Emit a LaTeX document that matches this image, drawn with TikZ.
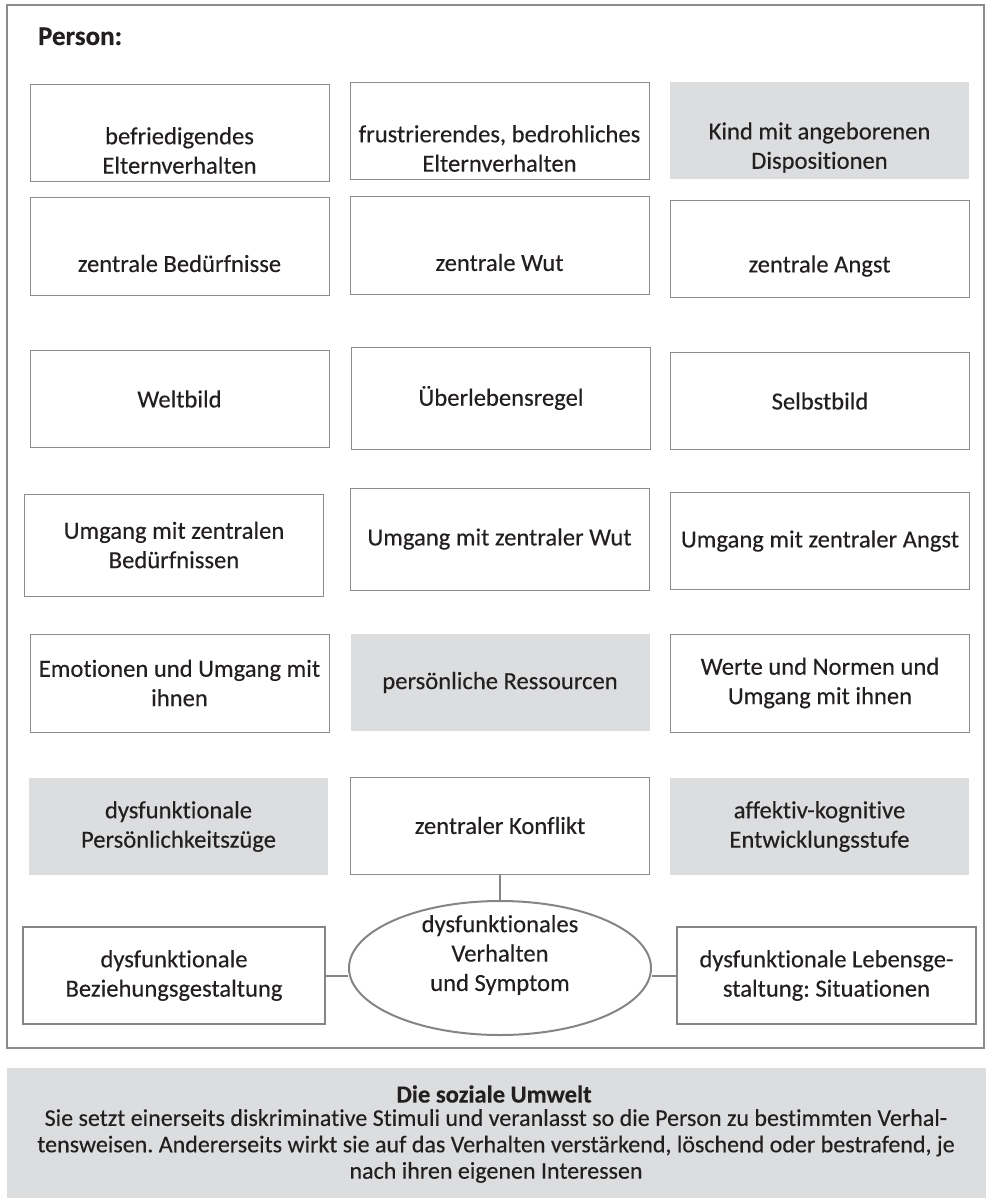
\documentclass[tikz,border=0pt]{standalone}
\usepackage{fontspec}
\setmainfont{Carlito}[Ligatures=NoCommon,FakeBold=0.3]
\usetikzlibrary{shapes.geometric}
\definecolor{frame}{HTML}{8C8C8C}
\definecolor{fillgrey}{HTML}{DCDDDF}
\definecolor{ink}{HTML}{231F20}
\frenchspacing
\begin{document}
\begin{tikzpicture}[x=0.5pt,y=-0.5pt,font=\fontsize{12.3}{14.7}\selectfont,text=ink]
\tikzstyle{box}=[draw=frame,line width=0.5pt,minimum width=149.5pt,minimum height=48.5pt,inner sep=0pt,align=center];
\tikzstyle{grey}=[fill=fillgrey,minimum width=149.5pt,minimum height=48.5pt,inner sep=0pt,align=center];
\tikzstyle{fat}=[box,draw=frame!95!black,line width=1pt];
\tikzstyle{sym}=[ellipse,draw=frame!95!black,line width=1pt,minimum width=151pt,minimum height=67pt,inner sep=0pt];
\tikzstyle{label}=[align=center,yshift=-8.5pt];
\tikzstyle{conn}=[draw=frame!95!black,line width=1pt];
\useasboundingbox (0,0) rectangle (986,1198);

% Rahmen Person
\draw [frame,line width=1pt] (7,5) rectangle (984,1048);
\node [anchor=base west,font=\fontsize{13.5}{15}\selectfont\bfseries] (person) at (31,45) {Person:};

% Zeile 1 und 2
\node [box] (befr) at (179.5,133.5) {};
\node [label] (befrT) at (befr) {befriedigendes\\Elternverhalten};
\node [box] (frus) at (499.5,131.5) {};
\node [label] (frusT) at (frus) {frustrierendes, bedrohliches\\Elternverhalten};
\node [grey] (kind) at (819.5,130.5) {};
\node [label] (kindT) at (kind) {Kind mit angeborenen\\Dispositionen};
\node [box] (beduerf) at (179.5,246.5) {};
\node [label] (beduerfT) at (beduerf) {zentrale Bedürfnisse};
\node [box] (wut) at (499.5,245.5) {};
\node [label] (wutT) at (wut) {zentrale Wut};
\node [box] (angst) at (819.5,249) {};
\node [label] (angstT) at (angst) {zentrale Angst};

% Zeile 3 bis 6
\node [box] (welt) at (179.5,399) {Weltbild};
\node [box,minimum height=51pt] (regel) at (501,398) {Überlebensregel};
\node [box] (selbst) at (820,401) {Selbstbild};
\node [box,minimum height=51pt] (ubed) at (174,545) {Umgang mit zentralen\\Bedürfnissen};
\node [box,minimum height=51pt] (uwut) at (499.5,539) {Umgang mit zentraler Wut};
\node [box] (uangst) at (820,541) {Umgang mit zentraler Angst};
\node [box,minimum height=49pt] (emo) at (179.5,683) {Emotionen und Umgang mit\\ihnen};
\node [grey] (ress) at (500,682.5) {persönliche Ressourcen};
\node [box,minimum height=49pt] (werte) at (820,683) {Werte und Normen und\\Umgang mit ihnen};
\node [grey] (zuege) at (178.5,826.5) {dysfunktionale\\Persönlichkeitszüge};
\node [box] (konf) at (500,825.5) {zentraler Konflikt};
\node [grey] (stufe) at (819.5,826.5) {affektiv-kognitive\\Entwicklungsstufe};

% Zeile 7
\node [fat,minimum width=151pt] (bez) at (174,975.5) {dysfunktionale\\Beziehungsgestaltung};
\node [sym] (symp) at (500,968) {};
\node [label,yshift=15pt] (sympT) at (symp) {dysfunktionales\\Verhalten\\und Symptom};
\node [fat] (leben) at (826.5,975.5) {dysfunktionale Lebensge-\\staltung: Situationen};
\draw [conn] (konf) -- (symp);
\draw [conn] (bez.east) -- (bez.east -| symp.west);
\draw [conn] (leben.west) -- (leben.west -| symp.east);

% soziale Umwelt
\fill [fillgrey] (7,1068) rectangle (986,1198);
\node [font=\fontsize{12.3}{14.7}\selectfont\bfseries] (umwelt) at (494,1094) {Die soziale Umwelt};
\node [align=center,font=\fontsize{12}{13.2}\selectfont] (umweltT) at (496,1146) {Sie setzt einerseits diskriminative Stimuli und veranlasst so die Person zu bestimmten Verhal-\\tensweisen. Andererseits wirkt sie auf das Verhalten verstärkend, löschend oder bestrafend, je\\nach ihren eigenen Interessen};
\end{tikzpicture}
\end{document}
